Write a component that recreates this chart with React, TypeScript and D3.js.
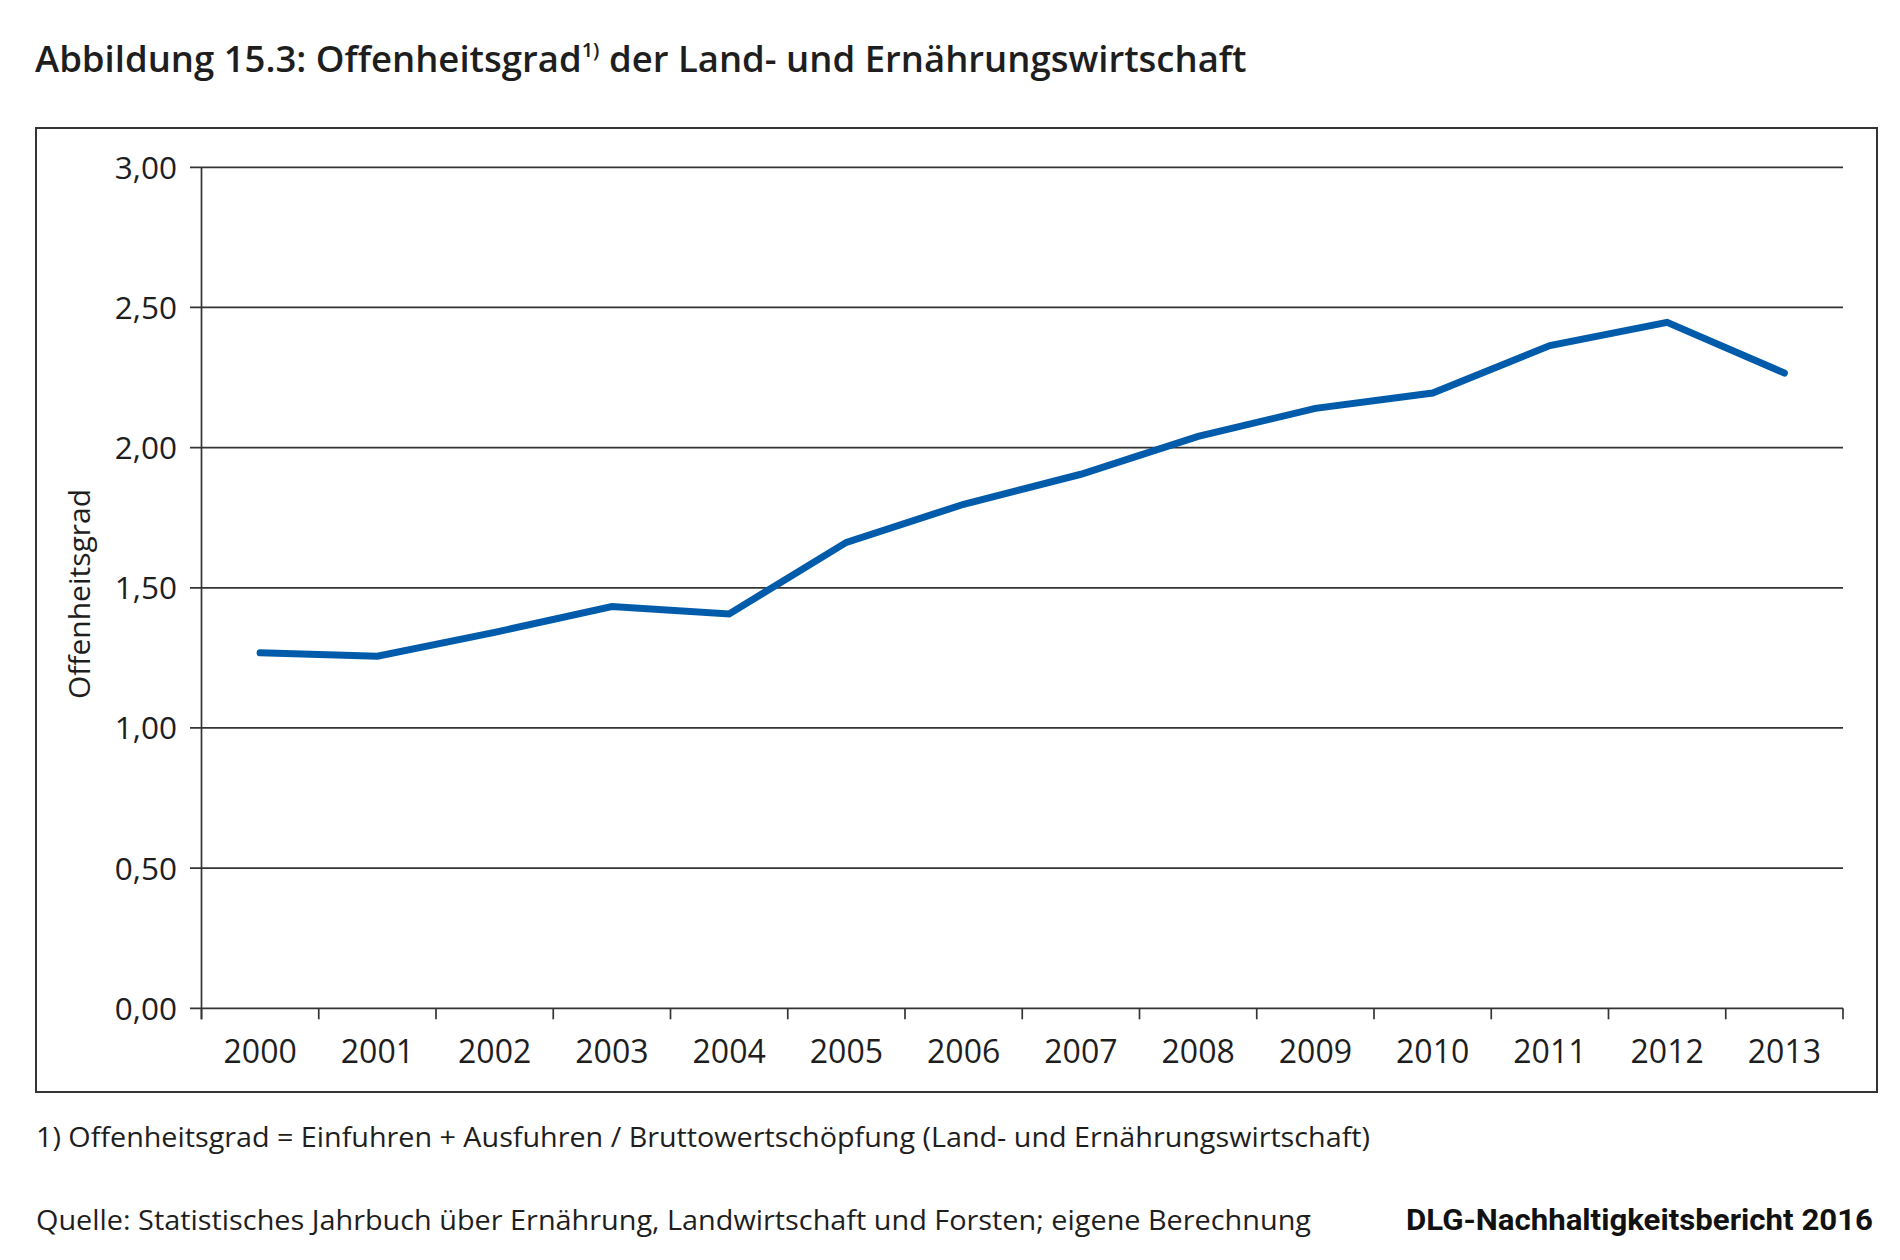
import React from "react";
import * as d3 from "d3";

const years = ["2000","2001","2002","2003","2004","2005","2006","2007","2008","2009","2010","2011","2012","2013"];
const openness = [1.268,1.256,1.341,1.433,1.407,1.662,1.798,1.905,2.04,2.14,2.195,2.364,2.447,2.266];
const yTicks = [0,0.5,1,1.5,2,2.5,3];

const titleMain = "Abbildung 15.3: Offenheitsgrad";
const titleSup = "1)";
const titleRest = " der Land- und Ernährungswirtschaft";
const yAxisTitle = "Offenheitsgrad";
const footnote = "1) Offenheitsgrad = Einfuhren + Ausfuhren / Bruttowertschöpfung (Land- und Ernährungswirtschaft)";
const source = "Quelle: Statistisches Jahrbuch über Ernährung, Landwirtschaft und Forsten; eigene Berechnung";
const brand = "DLG-Nachhaltigkeitsbericht 2016";

const W = 1900, H = 1260;
const plotLeft = 201.5, plotRight = 1843, plotTop = 167.3, plotBottom = 1008.3;
const FONT = "'Open Sans', 'DejaVu Sans', sans-serif";
const INK = "#1e1e1e";
const LINE = "#343434";

export default function App() {
  const x = d3.scaleBand<string>().domain(years).range([plotLeft, plotRight]).paddingInner(0).paddingOuter(0);
  const y = d3.scaleLinear().domain([0, 3]).range([plotBottom, plotTop]);
  const fmt = (v: number) => d3.format(".2f")(v).replace(".", ",");
  const line = d3.line<number>()
    .x((_, i) => (x(years[i]) as number) + x.bandwidth() / 2)
    .y((d) => y(d));
  const xTickPositions = years.map((yr) => x(yr) as number).concat([plotRight]);

  return (
    <svg width={W} height={H} style={{ position: "absolute", left: 0, top: 0, background: "#fff" }} fontFamily={FONT}>
      <rect x={0} y={0} width={W} height={H} fill="#fff" />
      {/* Title */}
      <text x={35} y={72} fontSize={36.5} fontWeight={600} fill={INK}>
        {titleMain}
        <tspan fontSize={20} dy={-15}>{titleSup}</tspan>
        <tspan dy={15}>{titleRest}</tspan>
      </text>

      {/* Frame */}
      <rect x={36} y={128} width={1841} height={964} fill="none" stroke={LINE} strokeWidth={2} />

      {/* Gridlines + y ticks */}
      {yTicks.map((t) => (
        <g key={t}>
          <line x1={190} x2={plotRight} y1={y(t)} y2={y(t)} stroke={LINE} strokeWidth={1.7} />
          <text x={177} y={y(t) + 11.5} textAnchor="end" fontSize={31.5} fill={INK}>{fmt(t)}</text>
        </g>
      ))}
      {/* Y axis line */}
      <line x1={plotLeft} x2={plotLeft} y1={plotTop} y2={plotBottom + 11} stroke={LINE} strokeWidth={1.7} />
      {/* X ticks */}
      {xTickPositions.map((px, i) => (
        <line key={i} x1={px} x2={px} y1={plotBottom} y2={plotBottom + 11} stroke={LINE} strokeWidth={1.7} />
      ))}
      {years.map((yr) => (
        <text key={yr} x={(x(yr) as number) + x.bandwidth() / 2} y={1063} textAnchor="middle" fontSize={32} fill={INK}>{yr}</text>
      ))}

      {/* Y axis title */}
      <text transform={`translate(90,594) rotate(-90)`} textAnchor="middle" fontSize={30} fill={INK}>{yAxisTitle}</text>

      {/* Data line */}
      <path d={line(openness) || ""} fill="none" stroke="#005BAA" strokeWidth={7} strokeLinecap="round" strokeLinejoin="miter" />

      {/* Footer */}
      <text x={36} y={1147} fontSize={26.5} fill={INK} textLength={1334} lengthAdjust="spacingAndGlyphs">{footnote}</text>
      <text x={36} y={1230} fontSize={26.5} fill={INK} textLength={1275} lengthAdjust="spacingAndGlyphs">{source}</text>
      <text x={1873} y={1230} textAnchor="end" fontSize={29} fontWeight={700} fill="#111" fontFamily="Roboto, 'DejaVu Sans', sans-serif" textLength={467} lengthAdjust="spacingAndGlyphs">{brand}</text>
    </svg>
  );
}
